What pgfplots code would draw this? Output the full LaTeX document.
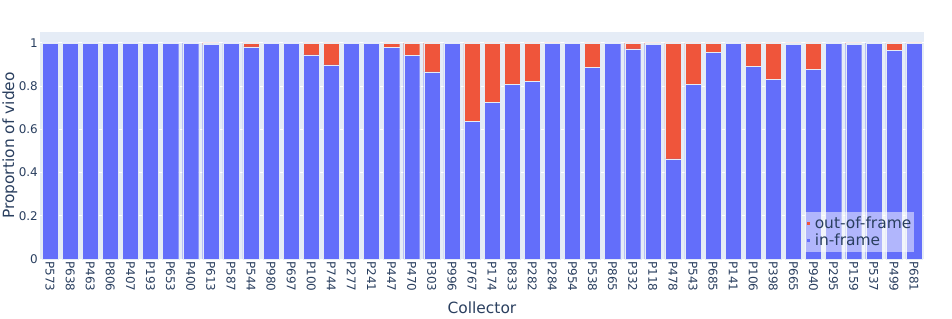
\documentclass[border=0pt]{standalone}
\usepackage{pgfplots}
\usepackage{pgfplotstable}
\pgfplotsset{compat=1.18}
\usepackage{fontspec}
\setmainfont{DejaVu Sans}
\definecolor{pblue}{HTML}{636EFA}
\definecolor{pred}{HTML}{EF553B}
\definecolor{pbg}{HTML}{E5ECF6}
\definecolor{ptext}{HTML}{2A3F5F}
\pgfplotstableread{
x in out
0 1 0
1 1 0
2 1 0
3 1 0
4 1 0
5 1 0
6 1 0
7 1 0
8 0.992 0.008
9 1 0
10 0.981 0.019
11 1 0
12 1 0
13 0.944 0.056
14 0.898 0.102
15 1 0
16 1 0
17 0.980 0.020
18 0.943 0.057
19 0.866 0.134
20 1 0
21 0.637 0.363
22 0.725 0.275
23 0.807 0.193
24 0.821 0.179
25 0.997 0.003
26 1 0
27 0.887 0.113
28 1 0
29 0.972 0.028
30 0.992 0.008
31 0.463 0.537
32 0.809 0.191
33 0.957 0.043
34 1 0
35 0.892 0.108
36 0.832 0.168
37 0.994 0.006
38 0.877 0.123
39 1 0
40 0.994 0.006
41 1 0
42 0.965 0.035
43 0.998 0.002
}\data
\begin{document}
\begin{tikzpicture}
\begin{axis}[
  name=ax,
  scale only axis, width=884bp, height=227bp,
  xmin=-0.5, xmax=43.5, ymin=0, ymax=1.05,
  ybar stacked, bar width=0.8,
  axis background/.style={fill=pbg},
  axis line style={draw=none},
  major tick length=0pt,
  xtick={0,...,43},
  xticklabels={P573,P638,P463,P806,P407,P193,P653,P400,P613,P587,P544,P980,P697,P100,P744,P277,P241,P447,P470,P303,P996,P767,P174,P833,P282,P284,P954,P538,P865,P332,P118,P478,P543,P685,P141,P106,P398,P665,P940,P295,P159,P537,P499,P681},
  xticklabel style={rotate=-90, anchor=west, font=\fontsize{12}{14}\selectfont, text=ptext, inner xsep=2bp},
  ytick={0,0.2,0.4,0.6,0.8,1},
  yticklabels={0,0.2,0.4,0.6,0.8,1},
  yticklabel style={font=\fontsize{12}{14}\selectfont, text=ptext, inner xsep=2bp},
  ymajorgrids, grid style={white, line width=1bp},
  xlabel={Collector}, ylabel={Proportion of video},
  every axis x label/.style={at={(axis description cs:0.5,-0.216)}, anchor=center, font=\fontsize{15.5}{18}\selectfont, text=ptext},
  every axis y label/.style={at={(axis description cs:-0.034,0.5)}, rotate=90, anchor=center, font=\fontsize{15.5}{18}\selectfont, text=ptext},
  reverse legend,
  legend cell align=left,
  legend style={at={(axis description cs:0.9887,0.031)}, anchor=south east, fill=white, fill opacity=0.5, text opacity=1, draw=none, font=\fontsize{15.5}{18}\selectfont, text=ptext, inner xsep=1bp, inner ysep=3bp, row sep=1bp,
    nodes={inner xsep=1.5bp, inner ysep=1.5bp}},
  legend image code/.code={\path (0bp,0bp) (7bp,0bp); \fill[#1,draw=none,fill opacity=1] (1bp,-1.5bp) rectangle (4bp,1.5bp);},
]
\addplot[fill=pblue, draw=pbg, line width=0.25bp] table[x=x, y=in] {\data};
\addlegendentry{in-frame}
\addplot[fill=pred, draw=pbg, line width=0.25bp] table[x=x, y=out] {\data};
\addlegendentry{out-of-frame}
\end{axis}
\pgfresetboundingbox
\path[use as bounding box] ([shift={(-40bp,-60bp)}]ax.south west) rectangle ([shift={(28bp,32bp)}]ax.north east);
\end{tikzpicture}
\end{document}
